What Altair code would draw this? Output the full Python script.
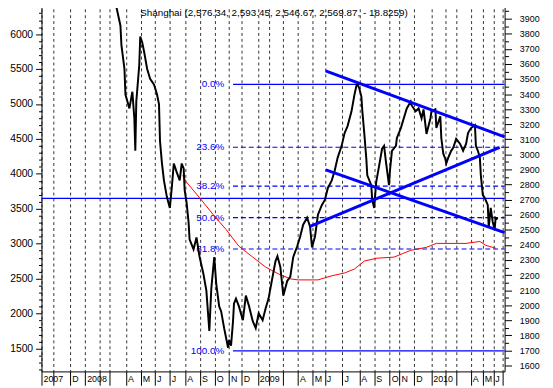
import altair as alt
import pandas as pd

# ---------------- data ----------------
# x is a trading-day index (0 = left edge of the plot, ~Oct 2007)
price_day = [102.2, 105.0, 112.0, 113.4, 117.7, 119.1, 124.7, 128.9, 131.7, 133.1, 134.5, 138.7, 140.1, 142.9,
             145.7, 149.9, 154.1, 159.7, 163.9, 166.7, 168.1, 170.9, 173.7, 177.9, 182.1, 184.9, 187.7, 191.9,
             196.1, 198.9, 201.7, 203.1, 205.9, 208.7, 210.1, 215.7, 219.9, 224.1, 229.7, 233.9, 238.1, 240.9,
             245.1, 247.9, 252.1, 254.9, 259.1, 261.9, 264.7, 266.1, 268.9, 271.7, 273.1, 275.9, 280.1, 285.7,
             289.9, 294.1, 299.7, 303.9, 308.1, 313.7, 317.9, 322.1, 327.8, 332.0, 334.7, 338.9, 343.1, 348.7,
             352.9, 357.1, 362.8, 367.0, 371.2, 376.8, 381.0, 383.8, 388.0, 392.2, 397.8, 402.0, 406.2, 411.8,
             416.0, 420.2, 425.8, 430.0, 434.2, 439.8, 444.0, 446.8, 448.2, 451.0, 453.8, 455.2, 458.0, 460.8,
             462.2, 467.8, 469.2, 472.0, 474.8, 479.0, 483.2, 486.0, 488.8, 493.0, 494.4, 497.2, 502.8, 504.2,
             509.8, 514.0, 518.2, 523.8, 525.2, 530.8, 535.0, 539.2, 542.0, 546.2, 551.8, 553.2, 558.8, 560.2,
             565.8, 567.2, 570.0, 572.8, 574.2, 577.1, 581.2, 584.1, 588.3, 593.9, 598.1, 602.3, 605.1, 609.3,
             614.9, 616.3, 619.1, 621.9, 623.3, 626.1, 628.9, 633.1, 634.5, 637.3, 640.1, 642.9, 644.3, 647.1]
price_val = [4103, 4005, 3854, 3724, 3567, 3397, 3305, 3416, 3240, 3024, 3351, 3593, 3782, 3743,
             3678, 3567, 3501, 3462, 3397, 3332, 3090, 2940, 2828, 2717, 2645, 2783, 2940, 2881,
             2828, 2940, 2907, 2763, 2678, 2547, 2436, 2371, 2449, 2325, 2208, 2097, 1829, 2110,
             2319, 2142, 1992, 1959, 1848, 1783, 1718, 1770, 1731, 1894, 2012, 2044, 1992, 1901,
             2064, 1999, 1894, 1848, 1946, 1901, 1979, 2044, 2188, 2293, 2325, 2253, 2064, 2162,
             2188, 2319, 2391, 2456, 2534, 2580, 2521, 2384, 2456, 2600, 2665, 2698, 2776, 2828,
             2894, 2979, 3057, 3142, 3188, 3286, 3397, 3456, 3469, 3436, 3384, 3286, 3136, 2972,
             2861, 2796, 2698, 2645, 2815, 2926, 3038, 3057, 2946, 2796, 2894, 3024, 3057, 3109,
             3175, 3240, 3305, 3351, 3325, 3286, 3305, 3240, 3299, 3136, 3240, 3286, 3299, 3175,
             3253, 3109, 3005, 2972, 2940, 2979, 3024, 3044, 3103, 3070, 3024, 3070, 3142, 3175,
             3194, 3057, 3024, 2979, 2861, 2730, 2711, 2665, 2515, 2645, 2554, 2502, 2580, 2570]

ma_day = [200.3, 205.9, 226.9, 243.7, 261.9, 280.1, 299.7, 317.9, 336.1, 352.9, 364.2, 392.2, 402.0,
          411.8, 430.0, 444.0, 458.0, 476.2, 500.0, 523.8, 546.2, 560.2, 602.3, 621.9, 630.3, 644.3]
ma_val = [2861, 2815, 2698, 2600, 2502, 2391, 2319, 2253, 2208, 2175, 2168, 2168, 2182,
          2195, 2214, 2240, 2293, 2312, 2319, 2364, 2384, 2410, 2410, 2423, 2397, 2378]

month_day = [0, 17, 41, 62, 83, 97, 120, 141, 161, 182, 204, 225, 246, 266, 284, 307, 323, 343, 364,
             385, 402, 427, 451, 472, 494, 508, 529, 553, 573, 588, 609, 626, 641, 654]
month_label = ['2007', '', 'D', '2008', '', '', 'A', 'M', 'J', 'J', 'A', 'S', 'O', 'N', 'D', '2009', '', '',
               'A', 'M', 'J', 'J', 'A', 'S', 'O', 'N', 'D', '2010', '', '', 'A', 'M', 'J', '']

trend_id = ['upper', 'upper', 'rising', 'rising', 'lower', 'lower']
trend_day = [403, 657, 381, 650, 403.4, 657]
trend_val = [3554, 3116, 2523, 3047, 2897, 2482]

fib_pct = [0.0, 23.6, 38.2, 50.0, 61.8, 100.0]
fib_text = ['0.0%', '23.6%', '38.2%', '50.0%', '61.8%', '100.0%']
fib_high = 3465
fib_low = 1697
fib_start = 271.7
x_end = 657
hline_val = 2708

left_ticks = list(range(1200, 6401, 100))
right_ticks = list(range(1600, 4001, 50))
left_domain = [1171, 6447]
right_domain = [1561, 4005]

title_text = 'Shanghai (2,576.34, 2,593.45, 2,546.67, 2,569.87, - 18.8259)'
title_day = 140
title_val = 3940

BLUE = '#0000ff'
FONT = 'Liberation Sans'

# ---------------- frames ----------------
price_df = pd.DataFrame({'day': price_day, 'v': price_val})
ma_df = pd.DataFrame({'day': ma_day, 'v': ma_val})
trend_df = pd.DataFrame({'id': trend_id, 'day': trend_day, 'v': trend_val})
fib_df = pd.DataFrame({'pct': fib_pct, 'label': fib_text})
fib_df['v'] = fib_high - (fib_high - fib_low) * fib_df['pct'] / 100.0
fib_df['day'] = fib_start
fib_df['day_end'] = x_end
solid_df = fib_df[fib_df['pct'].isin([0.0, 100.0])]
dash_df = fib_df[~fib_df['pct'].isin([0.0, 100.0])]

# ---------------- scales / axes ----------------
label_expr = ("[" + ",".join("'%s'" % l for l in month_label) + "][indexof(["
              + ",".join(str(d) for d in month_day) + "], datum.value)]")
x_scale = alt.Scale(domain=[0, x_end], nice=False, zero=False)
x_axis = alt.Axis(values=month_day, labelExpr=label_expr, grid=True, gridDash=[3, 3],
                  gridColor='#333333', gridWidth=1, tickSize=14, tickColor='black',
                  domainColor='black', labelAlign='left', labelBaseline='top', labelPadding=-11,
                  labelOffset=1.5, labelFontSize=9, labelFont=FONT, labelColor='black',
                  labelOverlap=False, labelFlush=False, title=None)

r_scale = alt.Scale(domain=right_domain, nice=False, zero=False)
r_axis = alt.Axis(orient='right', values=right_ticks,
                  labelExpr="datum.value % 100 === 0 && datum.value <= 3900 ? '' + datum.value : ''",
                  tickSize={"condition": {"test": "datum.value % 100 === 0", "value": 7}, "value": 4},
                  labelPadding=8, labelFontSize=9, labelFont=FONT, labelColor='black',
                  tickColor='black', domainColor='black', grid=False, title=None,
                  labelOverlap=False, labelFlush=False)

l_scale = alt.Scale(domain=left_domain, nice=False, zero=False)
l_axis = alt.Axis(orient='left', values=left_ticks,
                  labelExpr="datum.value % 500 === 0 ? '' + datum.value : ''",
                  tickSize={"condition": {"test": "datum.value % 500 === 0", "value": 6}, "value": 3},
                  labelPadding=3, labelFontSize=10.5, labelFont=FONT, labelColor='black',
                  tickColor='black', domainColor='black', grid=False, title=None,
                  labelOverlap=False, labelFlush=False)


def X(field='day'):
    return alt.X(field + ':Q', scale=x_scale, axis=x_axis)


def Y(field='v'):
    return alt.Y(field + ':Q', scale=r_scale, axis=r_axis)


# ---------------- layers ----------------
left_layer = alt.Chart(pd.DataFrame({'lv': left_domain})).mark_point(opacity=0).encode(
    y=alt.Y('lv:Q', scale=l_scale, axis=l_axis))

hline = alt.Chart(pd.DataFrame({'v': [hline_val]})).mark_rule(color=BLUE, strokeWidth=1.3).encode(y=Y())

fib_solid = alt.Chart(solid_df).mark_rule(color=BLUE, strokeWidth=1.3).encode(
    x=X(), x2='day_end:Q', y=Y())
fib_dash = alt.Chart(dash_df).mark_rule(color=BLUE, strokeWidth=1.1, strokeDash=[5, 3]).encode(
    x=X(), x2='day_end:Q', y=Y())
fib_labels = alt.Chart(fib_df).mark_text(align='right', baseline='middle', dx=-9, color=BLUE,
                                         fontSize=10, font=FONT).encode(x=X(), y=Y(), text='label:N')

ma_line = alt.Chart(ma_df).mark_line(color='#ff0000', strokeWidth=1).encode(x=X(), y=Y())
price_line = alt.Chart(price_df).mark_line(color='black', strokeWidth=2, clip=True).encode(x=X(), y=Y())
trend_lines = alt.Chart(trend_df).mark_line(color=BLUE, strokeWidth=3).encode(
    x=X(), y=Y(), detail='id:N')
title_layer = alt.Chart(pd.DataFrame({'day': [title_day], 'v': [title_val], 't': [title_text]})).mark_text(
    align='left', baseline='middle', fontSize=10, font=FONT, color='black').encode(x=X(), y=Y(), text='t:N')

right_group = alt.layer(hline, fib_solid, fib_dash, fib_labels, ma_line, price_line, trend_lines, title_layer)

chart = alt.layer(left_layer, right_group).resolve_scale(y='independent').properties(
    width=470, height=374,
    autosize=alt.AutoSizeParams(type='none'),
    padding={'left': 34, 'top': -8, 'right': 41, 'bottom': 14},
).configure_view(stroke=None)

chart.save("out.html", embed_options={"renderer": "svg", "actions": False})
